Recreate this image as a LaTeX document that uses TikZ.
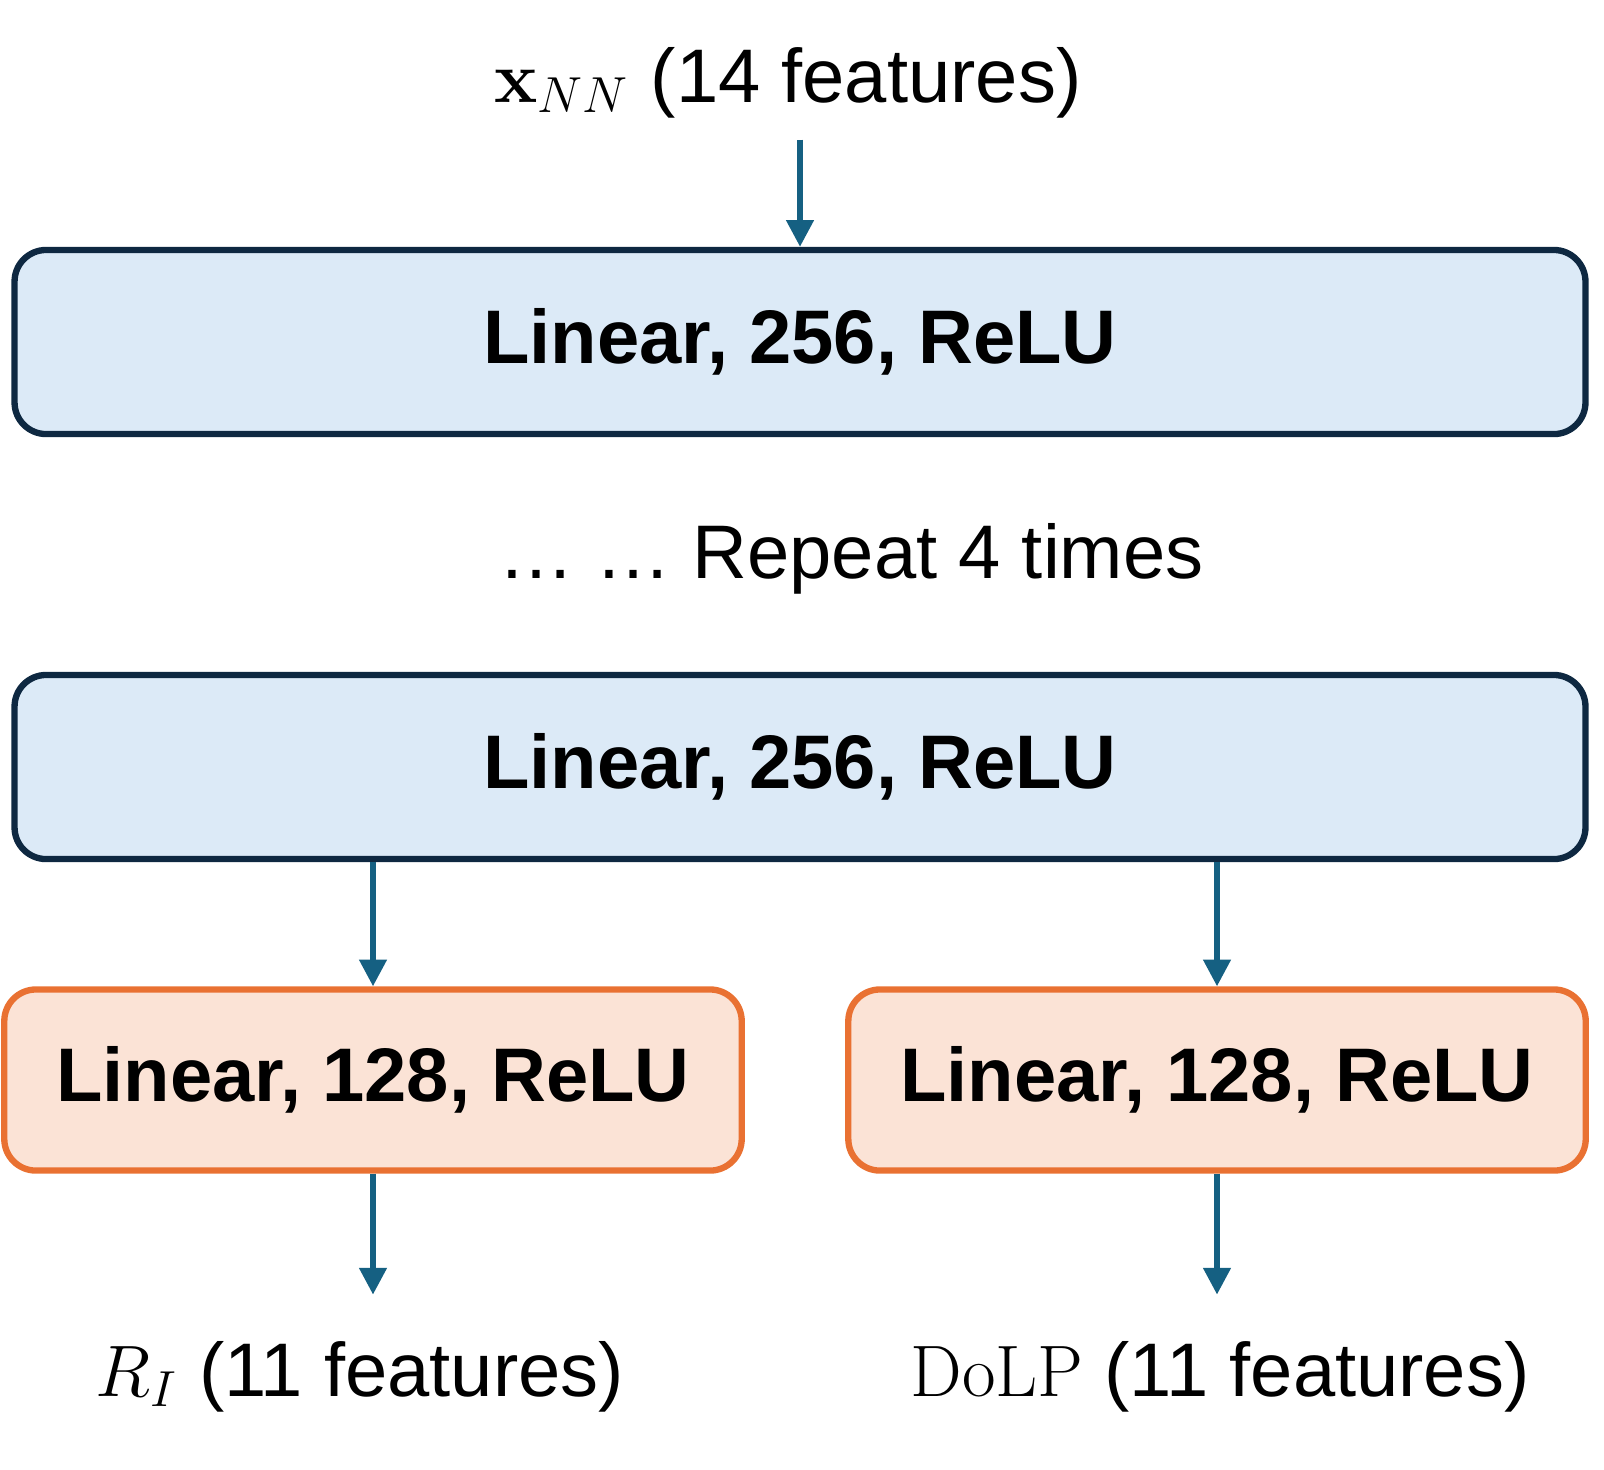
\documentclass[tikz,border=0pt]{standalone}
\usepackage[no-math]{fontspec}
\setmainfont{Liberation Sans}
\usetikzlibrary{arrows.meta,positioning}

\definecolor{navy}{HTML}{0E2841}
\definecolor{layerfill}{HTML}{DCEAF7}
\definecolor{headline}{HTML}{E97132}
\definecolor{headfill}{HTML}{FBE3D6}
\definecolor{flow}{HTML}{156082}

\begin{document}
\begin{tikzpicture}[
  x=0.01cm, y=-0.01cm,
  font=\fontsize{21.6}{26}\selectfont,
  layer/.style={draw=navy, line width=1.8pt, rounded corners=9pt, fill=layerfill, minimum width=15.7cm, minimum height=1.84cm, font=\fontsize{21.6}{26}\selectfont\bfseries},
  head/.style={layer, draw=headline, fill=headfill, minimum width=7.37cm, minimum height=1.81cm},
  iolabel/.style={anchor=base, inner sep=0pt},
  arrow/.style={-{Triangle[width=7.6pt,length=7.6pt]}, line width=1.55pt, draw=flow}
]
\useasboundingbox (0,0) rectangle (1604,1469);

\node[iolabel] (in) at (788,102) {$\mathbf{x}_{NN}$ (14 features)};

\node[layer] (l1) at (800,342) {Linear, 256, ReLU};
\draw[arrow, shorten <=6pt] (l1.north |- in.south) -- (l1.north);

\node[iolabel] (rep) at (851,578) {… … Repeat 4 times};

\node[layer] (l2) at (800,767) {Linear, 256, ReLU};

\node[head] (hR) at (373,1080) {Linear, 128, ReLU};
\node[head] (hD) at (1217,1080) {Linear, 128, ReLU};
\draw[arrow] (hR.north |- l2.south) -- (hR.north);
\draw[arrow] (hD.north |- l2.south) -- (hD.north);

\node[iolabel] (outR) at (360,1396) {$R_I$ (11 features)};
\node[iolabel] (outD) at (1220,1396) {$\mathrm{DoLP}$ (11 features)};
\draw[arrow, shorten >=13pt] (hR.south) -- (hR.south |- outR.north);
\draw[arrow, shorten >=13pt] (hD.south) -- (hD.south |- outD.north);

\end{tikzpicture}
\end{document}
